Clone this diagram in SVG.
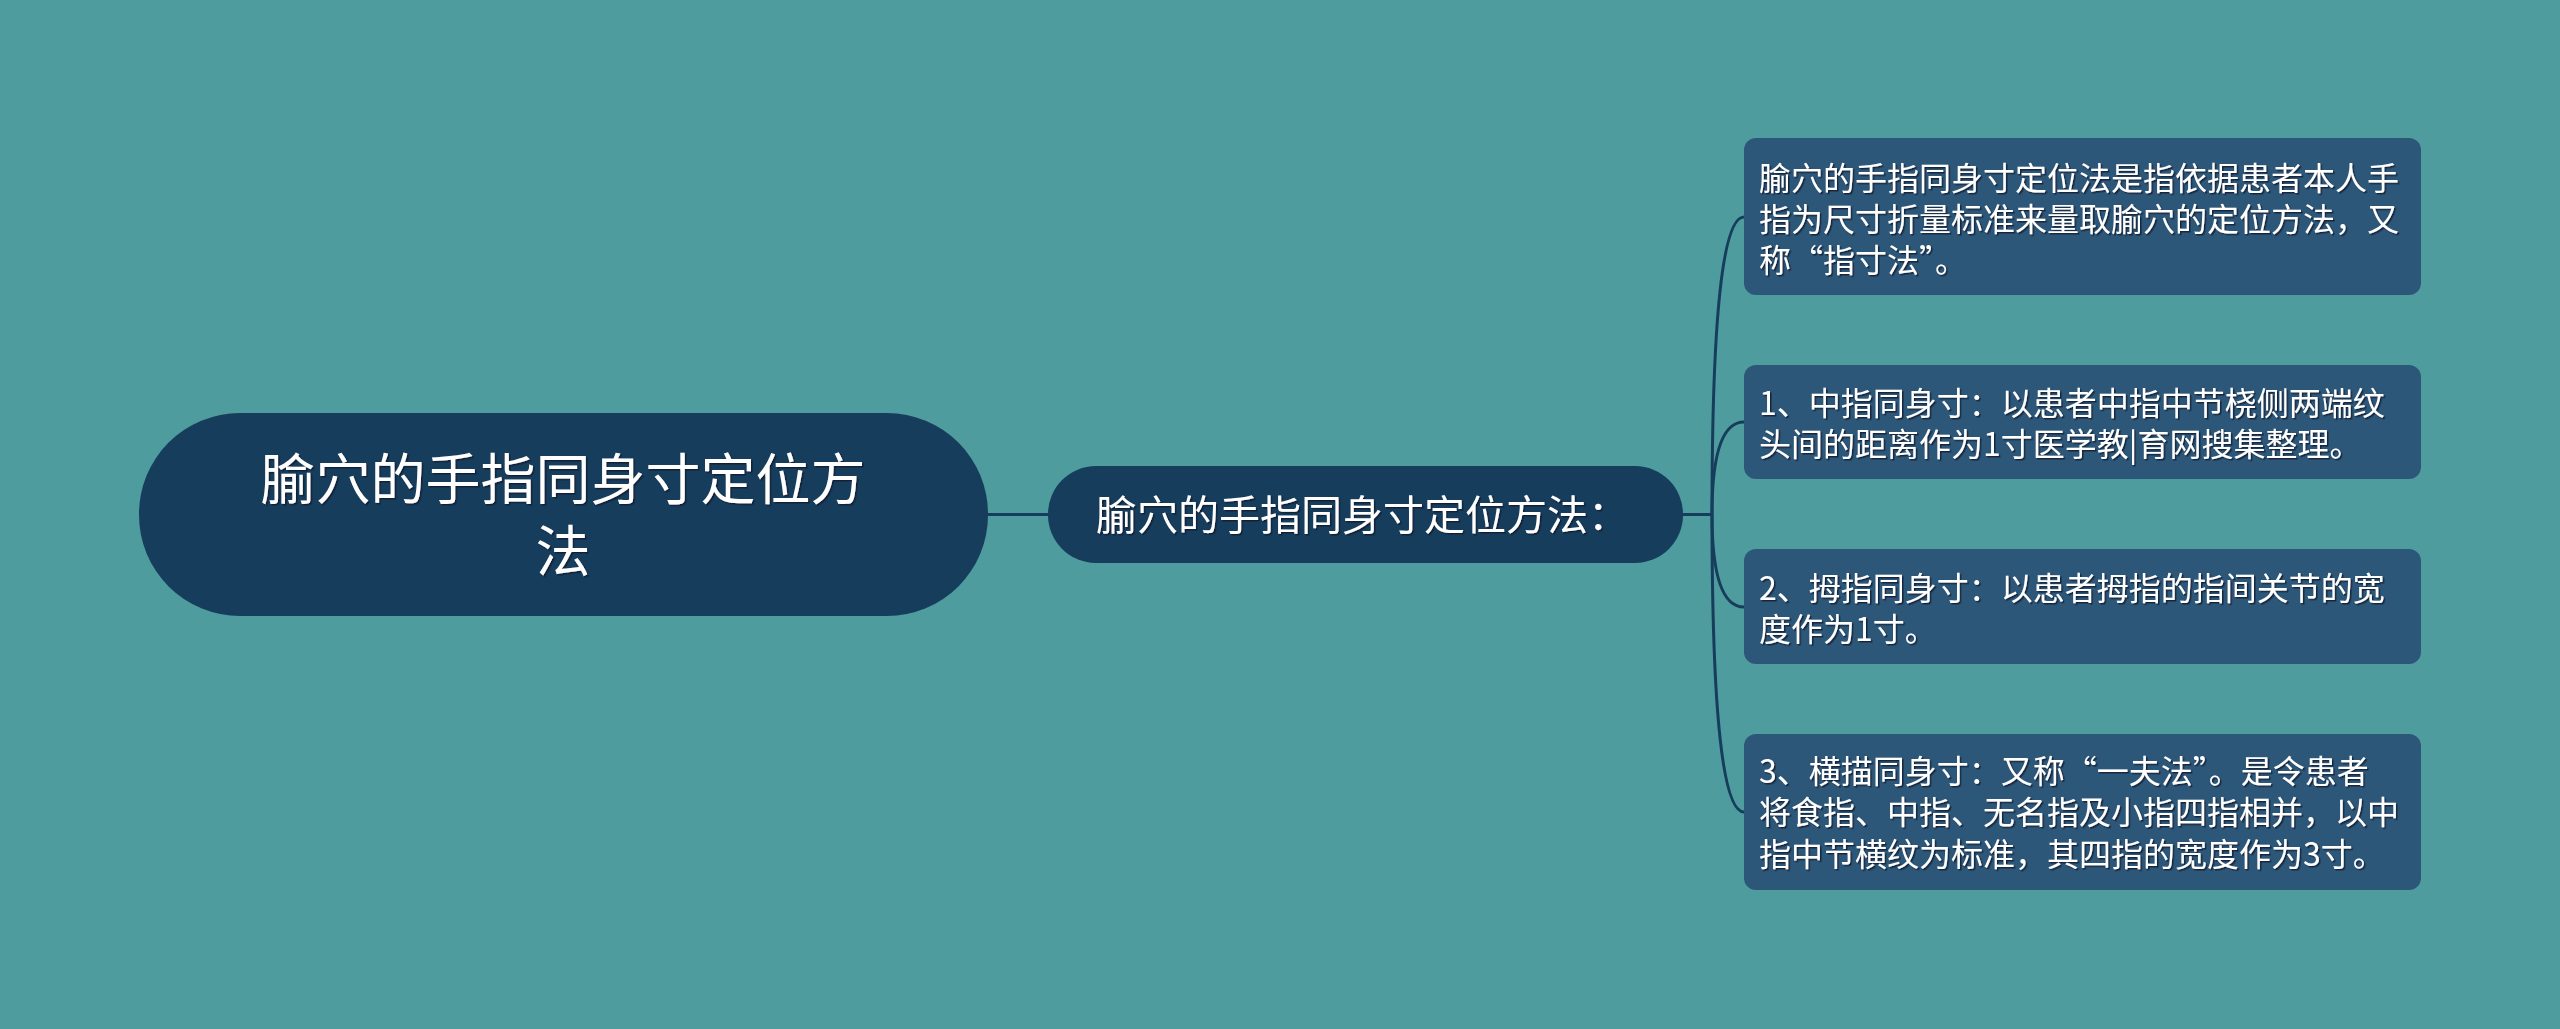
<svg xmlns="http://www.w3.org/2000/svg" width="2560" height="1029" viewBox="0 0 2560 1029">
<defs>
<style>
.t{font-family:"Noto Sans CJK SC","Noto Sans",sans-serif;fill:#ffffff;filter:url(#sh)}
.main{fill:#173d5d}
.leaf{fill:#2d5778}
.ln{fill:none;stroke:#173d5d;stroke-width:3}
</style>
<filter id="sh" x="-5%" y="-20%" width="110%" height="140%">
<feDropShadow dx="1.5" dy="1.5" stdDeviation="0.6" flood-color="#0b1e2e" flood-opacity="0.8"/>
</filter>
</defs>
<rect width="2560" height="1029" fill="#4e9c9d"/>
<g id="connectors">
<path class="ln" d="M988 514.5 L1048 514.5"/>
<path class="ln" d="M1683 514.5 L1712 514.5"/>
<path class="ln" d="M1712 514.5 Q1712 217 1744 217"/>
<path class="ln" d="M1712 514.5 Q1712 422 1744 422"/>
<path class="ln" d="M1712 514.5 Q1712 607 1744 607"/>
<path class="ln" d="M1712 514.5 Q1712 812 1744 812"/>
</g>
<g id="root">
<rect class="main" x="139" y="413" width="849" height="203" rx="101" ry="101"/>
<text class="t" font-size="55" text-anchor="middle"><tspan x="563" y="499">腧穴的手指同身寸定位方</tspan><tspan x="563" y="571">法</tspan></text>
</g>
<g id="mid">
<rect class="main" x="1048" y="466" width="635" height="97" rx="48" ry="48"/>
<text class="t" font-size="41" x="1096" y="530">腧穴的手指同身寸定位方法：</text>
</g>
<g id="n1">
<rect class="leaf" x="1744" y="138" width="677" height="157" rx="12" ry="12"/>
<text class="t" font-size="32"><tspan x="1759" y="190">腧穴的手指同身寸定位法是指依据患者本人手</tspan><tspan x="1759" y="231">指为尺寸折量标准来量取腧穴的定位方法，又</tspan><tspan x="1759" y="272">称“指寸法”。</tspan></text>
</g>
<g id="n2">
<rect class="leaf" x="1744" y="365" width="677" height="114" rx="12" ry="12"/>
<text class="t" font-size="32"><tspan x="1759" y="415">1、中指同身寸：以患者中指中节桡侧两端纹</tspan><tspan x="1759" y="456">头间的距离作为1寸医学教|育网搜集整理。</tspan></text>
</g>
<g id="n3">
<rect class="leaf" x="1744" y="549" width="677" height="115" rx="12" ry="12"/>
<text class="t" font-size="32"><tspan x="1759" y="600">2、拇指同身寸：以患者拇指的指间关节的宽</tspan><tspan x="1759" y="641">度作为1寸。</tspan></text>
</g>
<g id="n4">
<rect class="leaf" x="1744" y="734" width="677" height="156" rx="12" ry="12"/>
<text class="t" font-size="32"><tspan x="1759" y="783">3、横描同身寸：又称“一夫法”。是令患者</tspan><tspan x="1759" y="824">将食指、中指、无名指及小指四指相并，以中</tspan><tspan x="1759" y="866">指中节横纹为标准，其四指的宽度作为3寸。</tspan></text>
</g>
</svg>
